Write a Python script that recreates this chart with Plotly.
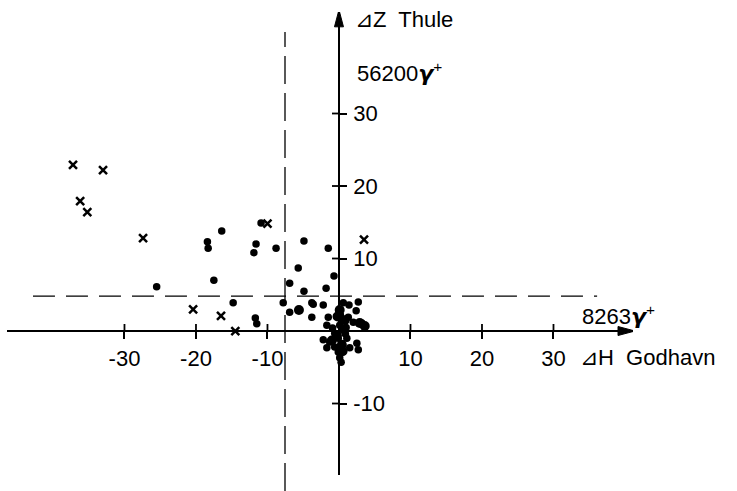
import plotly.graph_objects as go

# ---- data ----
cross_x = [-37.2, -33.0, -36.2, -35.2, -27.4, -20.4, -16.5, -14.5, -10.0, 3.5]
cross_y = [22.9, 22.2, 17.9, 16.4, 12.8, 3.0, 2.1, 0.0, 14.8, 12.6]

dot_x = [-10.9, -16.4, -18.4, -18.3, -11.6, -11.9, -8.8, -17.5, -25.5, -14.8,
         -11.7, -11.5, -4.9, -1.5, -5.7, -6.9, -0.7, -1.8, -4.9, -7.8,
         -3.8, -2.2, -6.9, -3.8, -1.5, -3.6,
         0.6, 1.4, 2.7, 0.3, 0.1, 1.3, 2.4, 2.0, 3.2, -1.7,
         0.6, -0.6, -2.2, -1.3, -0.1, 1.1, -1.7, -0.6, 1.5, 2.5,
         2.7, -0.1, 0.1, 0.3, 1.0, -0.9, 0.9, 0.2]
dot_y = [14.9, 13.8, 12.3, 11.4, 12.0, 10.8, 11.4, 7.0, 6.1, 3.9,
         1.8, 1.0, 12.4, 11.4, 8.7, 6.6, 7.6, 5.9, 5.5, 3.9,
         3.9, 3.6, 2.6, 1.9, 1.9, 3.7,
         3.9, 3.6, 4.0, 1.8, 0.8, 1.9, 2.8, 1.2, 1.1, 0.8,
         0.1, -0.3, -1.2, -1.5, -1.0, -1.0, -2.3, -2.2, -2.3, -1.7,
         -2.6, -2.9, -3.7, -4.3, 0.5, 0.4, -0.4, 2.2]

big_x = [-5.6, 0.1, 3.6, 0.4, -0.3, -1.0, 0.8, -0.2, 2.9, 0.5]
big_y = [2.9, 2.9, 0.7, -1.9, -0.6, -1.3, 1.5, 2.0, 1.1, -2.8]

x_tick_vals = [-30, -20, -10, 10, 20, 30]
x_tick_text = ["-30", "-20", "-10", "10", "20", "30"]
y_tick_vals = [30, 20, 10, -10]
y_tick_text = ["30", "20", "10", "-10"]

h_dash_y = 4.8          # horizontal dashed level
h_dash_x = [-42.8, 36.1]
v_dash_x = -7.55        # vertical dashed level

FONT = "Liberation Sans"
GAMMA = '<span style="font-family:DejaVu Sans"><b><i>γ</i></b></span><sup>+</sup>'
TX = 0.98   # half tick length in x data units (~7 px)
TY = 0.97   # half tick length in y data units (~7 px)

fig = go.Figure()

fig.add_trace(go.Scatter(x=dot_x, y=dot_y, mode="markers",
                         marker=dict(color="black", size=7.5), showlegend=False))
fig.add_trace(go.Scatter(x=big_x, y=big_y, mode="markers",
                         marker=dict(color="black", size=10), showlegend=False))
fig.add_trace(go.Scatter(x=cross_x, y=cross_y, mode="markers",
                         marker=dict(symbol="x-thin", size=8,
                                     line=dict(color="black", width=2.5)),
                         showlegend=False))

# inner halves of the crossing tick marks (outer halves come from the axes)
for t in x_tick_vals:
    fig.add_trace(go.Scatter(x=[t, t], y=[0, TY], mode="lines",
                             line=dict(color="black", width=1.8),
                             showlegend=False, hoverinfo="skip"))
for t in y_tick_vals:
    fig.add_trace(go.Scatter(x=[-TX, 0], y=[t, t], mode="lines",
                             line=dict(color="black", width=1.8),
                             showlegend=False, hoverinfo="skip"))

shapes = []
# dashed guide lines
shapes.append(dict(type="line", xref="x", yref="y", x0=h_dash_x[0], x1=h_dash_x[1],
                   y0=h_dash_y, y1=h_dash_y,
                   line=dict(color="black", width=1.3, dash="22px,11px")))
shapes.append(dict(type="line", xref="x", yref="paper", x0=v_dash_x, x1=v_dash_x,
                   y0=0, y1=0.935,
                   line=dict(color="black", width=1.3, dash="28px,9px")))
# arrow heads
shapes.append(dict(type="path", xref="x", yref="y", xsizemode="pixel", ysizemode="pixel",
                   xanchor=0, yanchor=44.3, path="M0,0 L-4.5,-17 L4.5,-17 Z",
                   fillcolor="black", line=dict(color="black", width=1)))
shapes.append(dict(type="path", xref="x", yref="y", xsizemode="pixel", ysizemode="pixel",
                   xanchor=41.4, yanchor=0, path="M0,0 L-17,4.5 L-17,-4.5 Z",
                   fillcolor="black", line=dict(color="black", width=1)))

annotations = [
    dict(x=1.9, y=43.0, text="⊿Z  Thule", xanchor="left", yanchor="middle"),
    dict(x=2.2, y=35.7, text="56200" + GAMMA, xanchor="left", yanchor="middle"),
    dict(x=33.7, y=2.2, text="8263" + GAMMA, xanchor="left", yanchor="middle"),
    dict(x=33.4, y=-3.6, text="⊿H  Godhavn", xanchor="left", yanchor="middle"),
]
for a in annotations:
    a.update(xref="x", yref="y", showarrow=False,
             font=dict(family=FONT, size=22, color="black"))

fig.update_layout(
    width=737, height=491,
    margin=dict(l=0, r=0, t=0, b=0),
    paper_bgcolor="white", plot_bgcolor="white",
    font=dict(family=FONT, size=22, color="black"),
    shapes=shapes, annotations=annotations,
    xaxis=dict(domain=[7 / 737, 633 / 737], range=[-46.43, 41.12],
               anchor="free", position=(491 - 331) / 491,
               showline=True, linecolor="black", linewidth=1.6,
               showgrid=False, zeroline=False,
               ticks="outside", ticklen=7, tickwidth=1.8, tickcolor="black",
               tickvals=x_tick_vals, ticktext=x_tick_text,
               ticklabelstandoff=1, tickfont=dict(family=FONT, size=22)),
    yaxis=dict(domain=[16 / 491, 479 / 491], range=[-19.86, 44.0],
               anchor="free", position=339 / 737, side="right",
               showline=True, linecolor="black", linewidth=1.6,
               showgrid=False, zeroline=False,
               ticks="outside", ticklen=7, tickwidth=1.8, tickcolor="black",
               tickvals=y_tick_vals, ticktext=y_tick_text,
               ticklabelstandoff=2, tickfont=dict(family=FONT, size=22)),
)

fig.write_html("out.html")
